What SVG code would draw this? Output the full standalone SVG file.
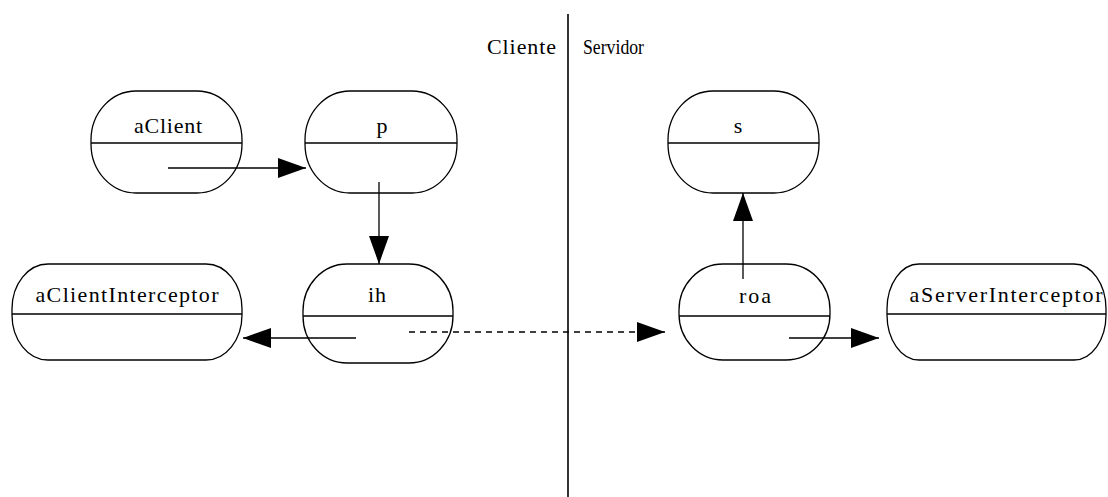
<svg xmlns="http://www.w3.org/2000/svg" width="1108" height="497" viewBox="0 0 1108 497">
  <style>
    .obj { fill: #fff; stroke: #000; stroke-width: 1.3; }
    .div { stroke: #000; stroke-width: 1.3; }
    .lbl { font-family: "Liberation Serif", "Times New Roman", serif; font-size: 22px; fill: #000; text-anchor: middle; }
    .side { font-family: "Liberation Serif", "Times New Roman", serif; font-size: 22px; fill: #000; }
    .msg { fill: none; stroke: #000; stroke-width: 1.3; marker-end: url(#head); }
    .async { stroke-dasharray: 6 5; }
  </style>
  <defs>
    <marker id="head" markerUnits="userSpaceOnUse" markerWidth="28" markerHeight="20" viewBox="0 0 28 20" refX="28" refY="10" orient="auto">
      <path d="M0,0 L28,10 L0,20 Z" fill="#000"/>
    </marker>
  </defs>
  <rect width="1108" height="497" fill="#fff"/>

  <!-- client / server boundary -->
  <g id="boundary">
    <line x1="568" y1="14" x2="568" y2="497" stroke="#000" stroke-width="1.6"/>
    <text class="side" x="487" y="54" textLength="69">Cliente</text>
    <text class="side" x="583" y="54" textLength="61" lengthAdjust="spacingAndGlyphs">Servidor</text>
  </g>

  <g id="aClient">
    <rect class="obj" x="91" y="91" width="151" height="102" rx="45" ry="49"/>
    <line class="div" x1="91" y1="143" x2="242" y2="143"/>
    <text class="lbl" x="168" y="133" textLength="68">aClient</text>
  </g>

  <g id="p">
    <rect class="obj" x="305" y="91" width="152" height="102" rx="45" ry="49"/>
    <line class="div" x1="305" y1="143" x2="457" y2="143"/>
    <text class="lbl" x="382" y="133">p</text>
  </g>

  <g id="s">
    <rect class="obj" x="668" y="91" width="151" height="102" rx="45" ry="49"/>
    <line class="div" x1="668" y1="143" x2="819" y2="143"/>
    <text class="lbl" x="738" y="133">s</text>
  </g>

  <g id="aClientInterceptor">
    <rect class="obj" x="12" y="264" width="230" height="96" rx="36" ry="45"/>
    <line class="div" x1="12" y1="314" x2="242" y2="314"/>
    <text class="lbl" x="127" y="302" textLength="183">aClientInterceptor</text>
  </g>

  <g id="ih">
    <rect class="obj" x="303" y="264" width="150" height="99" rx="44" ry="47"/>
    <line class="div" x1="303" y1="316" x2="453" y2="316"/>
    <text class="lbl" x="377" y="302" textLength="18">ih</text>
  </g>

  <g id="roa">
    <rect class="obj" x="679" y="264" width="151" height="96" rx="44" ry="46"/>
    <line class="div" x1="679" y1="316" x2="830" y2="316"/>
    <text class="lbl" x="755" y="303" textLength="32">roa</text>
  </g>

  <g id="aServerInterceptor">
    <rect class="obj" x="887" y="264" width="219" height="96" rx="32" ry="45"/>
    <line class="div" x1="887" y1="314" x2="1106" y2="314"/>
    <text class="lbl" x="1006" y="302" textLength="193">aServerInterceptor</text>
  </g>

  <g id="connectors">
    <line class="msg" x1="168" y1="168" x2="306" y2="168"/>
    <line class="msg" x1="379" y1="182" x2="379" y2="264"/>
    <line class="msg" x1="356" y1="338" x2="243" y2="338"/>
    <line class="msg async" x1="409" y1="332" x2="665" y2="332"/>
    <line class="msg" x1="743" y1="279" x2="743" y2="193"/>
    <line class="msg" x1="789" y1="338" x2="879" y2="338"/>
  </g>
</svg>
